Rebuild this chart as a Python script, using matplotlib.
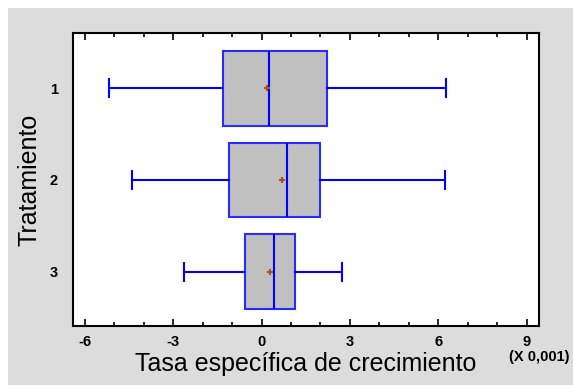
import matplotlib
matplotlib.use('Agg')
import matplotlib.pyplot as plt
from matplotlib.patches import Rectangle
from matplotlib.ticker import MultipleLocator

# Data (units of 0.001)
groups = ['1', '2', '3']
whis_low = [-5.19, -4.41, -2.63]
q1 = [-1.32, -1.11, -0.57]
medians = [0.24, 0.87, 0.41]
q3 = [2.22, 2.00, 1.12]
whis_high = [6.26, 6.22, 2.73]
means = [0.19, 0.69, 0.28]

plt.rcParams['font.family'] = ['Liberation Sans', 'DejaVu Sans']

fig = plt.figure(figsize=(5.73, 3.85), dpi=100, facecolor='white')
# grey panel behind the plot
fig.patches.append(Rectangle((8 / 573, 0), 1, 1 - 8 / 385, transform=fig.transFigure,
                             facecolor='#DCDCDC', edgecolor='none', zorder=-10))

ax = fig.add_axes([73 / 573, 1 - 326 / 385, 466 / 573, 293 / 385])

stats = []
for i, g in enumerate(groups):
    stats.append({'label': g, 'whislo': whis_low[i], 'q1': q1[i], 'med': medians[i],
                  'q3': q3[i], 'whishi': whis_high[i], 'mean': means[i], 'fliers': []})

blue = '#0000FF'
ax.bxp(stats, positions=[1, 2, 3], vert=False, widths=0.815, patch_artist=True,
       showmeans=True, showfliers=False,
       boxprops=dict(facecolor='#C0C0C0', edgecolor='#2A2AFF', linewidth=1.5),
       medianprops=dict(color=blue, linewidth=1.5),
       whiskerprops=dict(color=blue, linewidth=1.5),
       capprops=dict(color=blue, linewidth=1.5),
       capwidths=0.19,
       meanprops=dict(marker='+', markeredgecolor='#B0501E', markersize=5,
                      markeredgewidth=1.5))

ax.set_xlim(-6.4, 9.42)
ax.set_ylim(3.59, 0.40)
ax.xaxis.set_minor_locator(MultipleLocator(1))
ax.set_xticks([-6, -3, 0, 3, 6, 9])
ax.set_xticklabels(['-6', '-3', '0', '3', '6', '9'])
ax.tick_params(axis='x', which='both', direction='in', top=True, bottom=True,
               labelsize=10.5, pad=6.5, width=1.2)
ax.tick_params(axis='x', which='major', length=5)
ax.tick_params(axis='x', which='minor', length=3)
ax.tick_params(axis='y', length=0, labelsize=10.5, pad=11)
for lab in ax.get_xticklabels() + ax.get_yticklabels():
    lab.set_fontweight('bold')
for s in ax.spines.values():
    s.set_linewidth(1.5)

ax.set_xlabel('Tasa específica de crecimiento', fontsize=18, labelpad=2)
ax.set_ylabel('Tratamiento', fontsize=18, labelpad=6)
fig.text(539 / 573, 1 - 357 / 385, '(X 0,001)', ha='center', va='center',
         fontsize=10.5, fontweight='bold')

fig.savefig('out.png', dpi=100, facecolor=fig.get_facecolor())
